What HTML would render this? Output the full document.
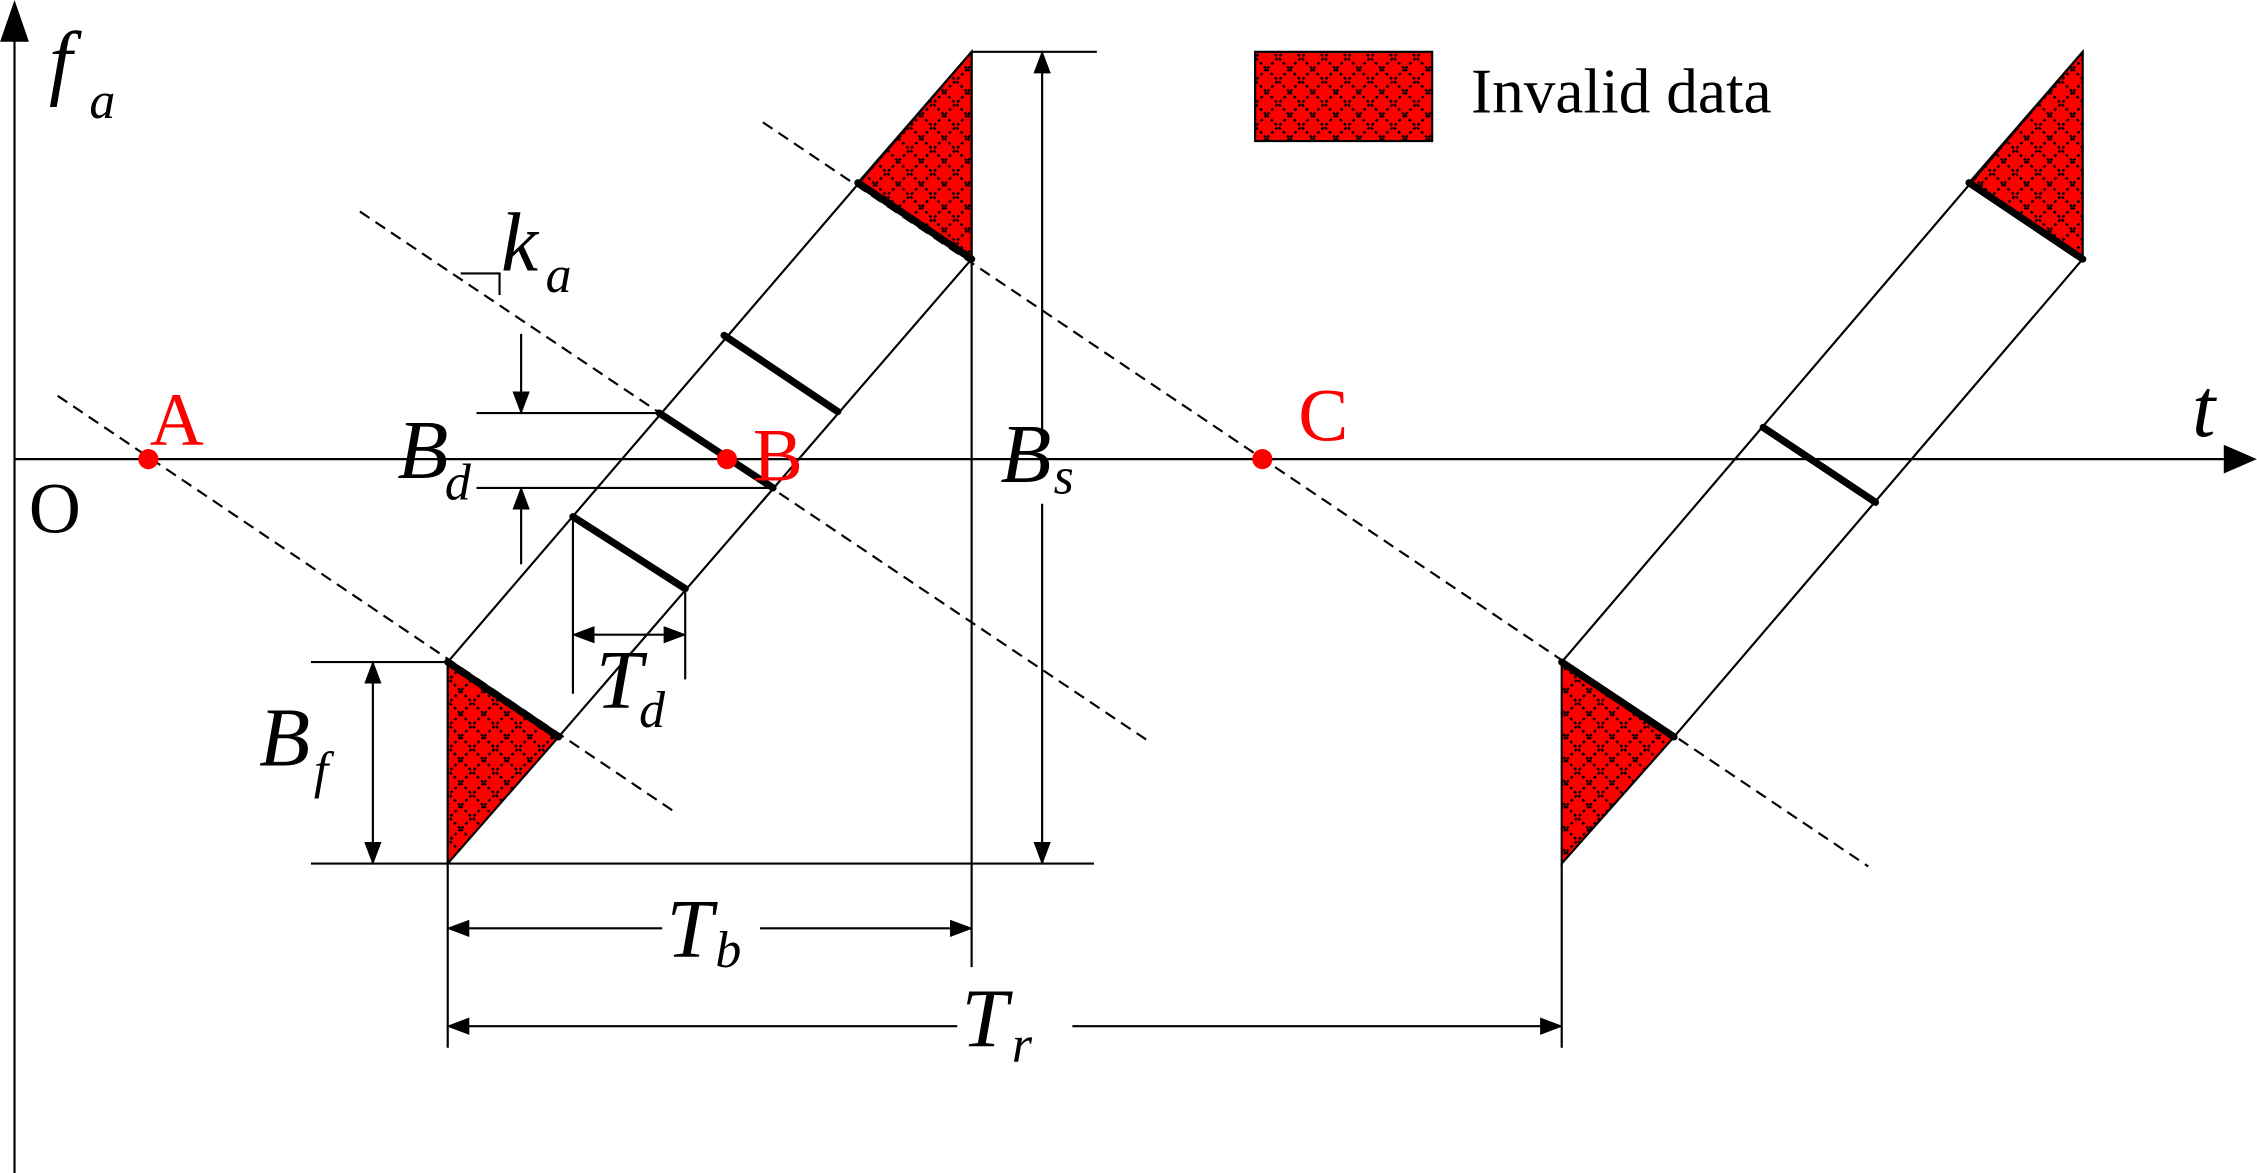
<!DOCTYPE html>
<html><head><style>html,body{margin:0;padding:0;background:#fff;}svg{display:block}</style></head>
<body>
<svg width="2257" height="1173" viewBox="0 0 1568 815" xmlns="http://www.w3.org/2000/svg" style="font-family:'Liberation Serif',serif">
<defs>
<pattern id="hp" width="16" height="16" patternUnits="userSpaceOnUse">
<rect width="16" height="16" fill="#f00"/>
<path d="M0,0 L16,16 M16,0 L0,16" stroke="#000" stroke-width="1.6" stroke-dasharray="2,2"/>
</pattern>
<marker id="ar2" markerWidth="16" markerHeight="12" refX="15" refY="6" orient="auto-start-reverse" markerUnits="userSpaceOnUse"><path d="M0,0 L16,6 L0,12z" fill="#000"/></marker>
</defs>
<g stroke="#000" stroke-width="1.5" fill="none">
<line x1="10" y1="815" x2="10" y2="26"/>
<path d="M0,29 L10,0 L20,29z" fill="#000" stroke="none"/>
<line x1="10" y1="319" x2="1545" y2="319"/>
<path d="M1545,309 L1568,319 L1545,329z" fill="#000" stroke="none"/>
<g stroke-dasharray="8,5">
<line x1="40" y1="275" x2="470" y2="565"/>
<line x1="250" y1="147" x2="798" y2="515"/>
<line x1="530" y1="85" x2="1298" y2="602"/>
</g>
<path d="M311,460 L388,512 L311,600z" fill="url(#hp)"/>
<path d="M596,127 L675,36 L675,180z" fill="url(#hp)"/>
<path d="M1085,460 L1163,512 L1085,600z" fill="url(#hp)"/>
<path d="M1368,127 L1447,36 L1447,180z" fill="url(#hp)"/>
<line x1="311" y1="460" x2="675" y2="36"/>
<line x1="388" y1="512" x2="675" y2="180"/>
<line x1="1085" y1="460" x2="1447" y2="36"/>
<line x1="1163" y1="512" x2="1447" y2="180"/>
<line x1="675" y1="36" x2="762" y2="36"/>
<line x1="216" y1="600" x2="760" y2="600"/>
<line x1="216" y1="460" x2="311" y2="460"/>
<line x1="311" y1="460" x2="311" y2="728"/>
<line x1="675" y1="36" x2="675" y2="672"/>
<line x1="1085" y1="600" x2="1085" y2="728"/>
<line x1="398" y1="359" x2="398" y2="482"/>
<line x1="476" y1="409" x2="476" y2="472"/>
<line x1="331" y1="287" x2="458" y2="287"/>
<line x1="331" y1="339" x2="537" y2="339"/>
<path d="M320,190 L347,190 L347,205"/>
<line x1="724" y1="300" x2="724" y2="36" marker-end="url(#ar2)"/>
<line x1="724" y1="350" x2="724" y2="600" marker-end="url(#ar2)"/>
<line x1="259" y1="460" x2="259" y2="600" marker-start="url(#ar2)" marker-end="url(#ar2)"/>
<line x1="311" y1="645" x2="460" y2="645" marker-start="url(#ar2)"/>
<line x1="528" y1="645" x2="675" y2="645" marker-end="url(#ar2)"/>
<line x1="311" y1="713" x2="665" y2="713" marker-start="url(#ar2)"/>
<line x1="745" y1="713" x2="1085" y2="713" marker-end="url(#ar2)"/>
<line x1="398" y1="441" x2="476" y2="441" marker-start="url(#ar2)" marker-end="url(#ar2)"/>
<line x1="362" y1="232" x2="362" y2="287" marker-end="url(#ar2)"/>
<line x1="362" y1="392" x2="362" y2="339" marker-end="url(#ar2)"/>
</g>
<g stroke="#000" stroke-width="5" stroke-linecap="round">
<line x1="311" y1="460" x2="388" y2="512"/>
<line x1="398" y1="359" x2="476" y2="409"/>
<line x1="458" y1="287" x2="537" y2="339"/>
<line x1="503" y1="233" x2="582" y2="286"/>
<line x1="596" y1="127" x2="675" y2="180"/>
<line x1="1085" y1="460" x2="1163" y2="512"/>
<line x1="1225" y1="297" x2="1303" y2="349"/>
<line x1="1368" y1="127" x2="1447" y2="180"/>
</g>
<rect x="872" y="36" width="123" height="62" fill="url(#hp)" stroke="#000" stroke-width="1.5"/>
<text x="1022" y="78" font-size="44" style="font-family:'Liberation Serif',serif">Invalid data</text>
<g fill="#f00" style="font-family:'Liberation Serif',serif">
<circle cx="103" cy="319" r="7"/><circle cx="505" cy="319" r="7"/><circle cx="877" cy="319" r="7"/>
<text x="104" y="309" font-size="52">A</text>
<text x="523" y="334" font-size="52">B</text>
<text x="902" y="306" font-size="52">C</text>
</g>
<g font-style="italic" font-size="58" style="font-family:'Liberation Serif',serif">
<text x="34" y="62">f</text><text x="62" y="82" font-size="36">a</text>
<text x="1523" y="303">t</text>
<text x="348" y="188">k</text><text x="379" y="203" font-size="36">a</text>
<text x="276" y="332">B</text><text x="309" y="347" font-size="36">d</text>
<text x="695" y="335">B</text><text x="732" y="343" font-size="36">s</text>
<text x="180" y="532">B</text><text x="218" y="547" font-size="36">f</text>
<text x="414" y="492">T</text><text x="444" y="505" font-size="36">d</text>
<text x="463" y="665">T</text><text x="497" y="672" font-size="36">b</text>
<text x="668" y="727">T</text><text x="703" y="738" font-size="36">r</text>
</g>
<text x="20" y="370" font-size="50" style="font-family:'Liberation Serif',serif">O</text>
</svg>
</body></html>
